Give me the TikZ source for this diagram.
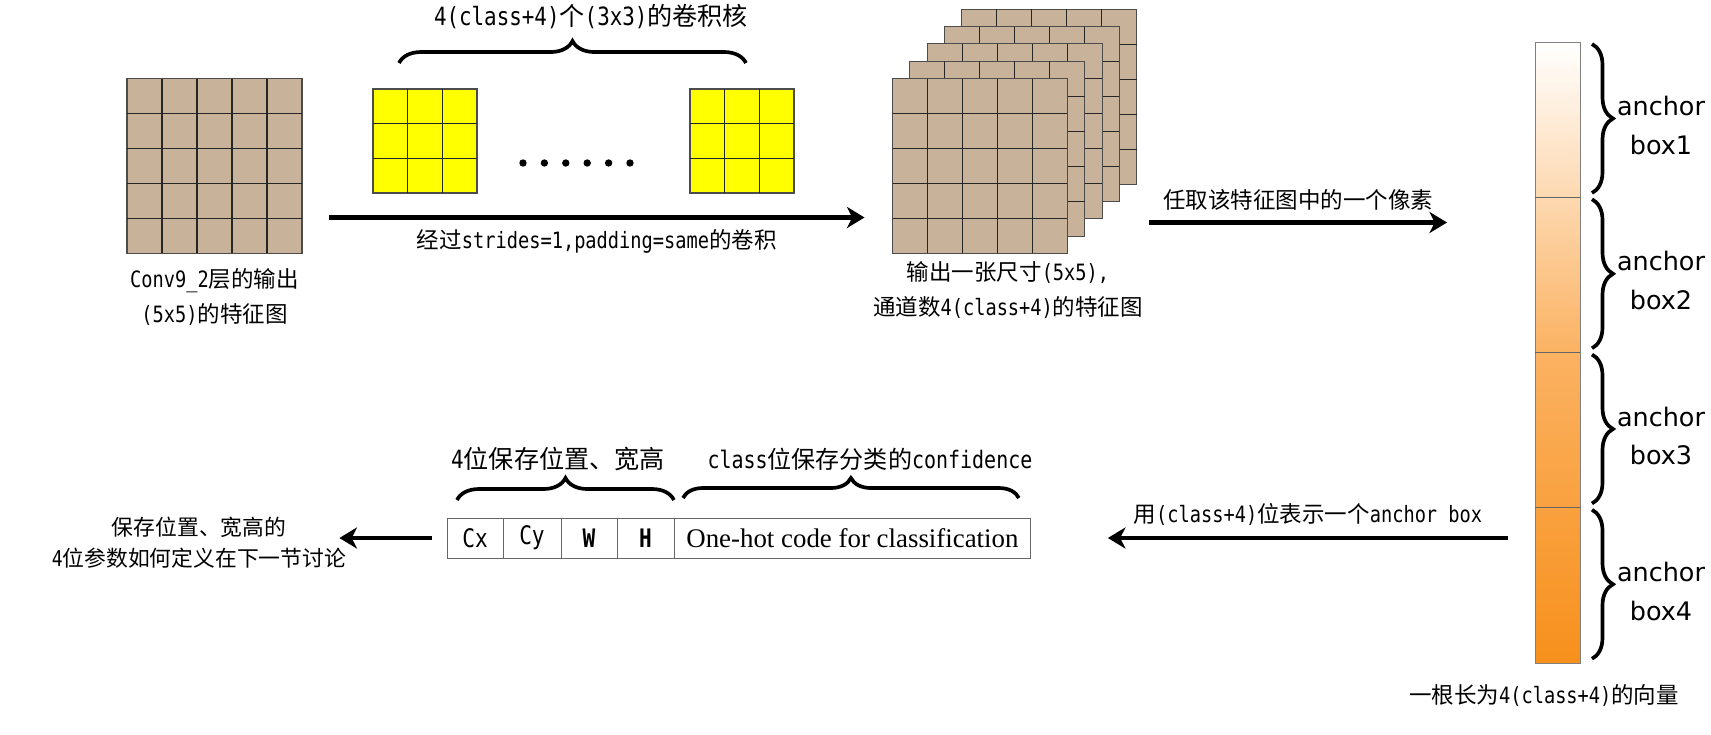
\documentclass[tikz,border=0pt]{standalone}
\usepackage{fontspec}
\setmainfont{Noto Sans CJK SC}
\newfontfamily\hmono[FakeStretch=0.83]{DejaVu Sans Mono}
\newfontfamily\boxfont{DejaVu Sans}
\newfontfamily\serifen{Liberation Serif}
\newcommand{\lat}[1]{{\hmono #1}}
\usetikzlibrary{arrows.meta,decorations.pathreplacing,positioning,calc}
\definecolor{maptan}{RGB}{200,179,154}
\definecolor{kernyellow}{RGB}{255,255,0}
\definecolor{vecmid}{RGB}{251,178,98}
\definecolor{vecorange}{RGB}{247,144,28}

% n x n cells inside a square node
\newcommand{\cellgrid}[2]{%
  \pgfmathtruncatemacro\cgn{#2-1}%
  \foreach \i in {1,...,\cgn}{%
    \draw[gridline] ($(#1.north west)!\i/#2!(#1.north east)$) -- ($(#1.south west)!\i/#2!(#1.south east)$);
    \draw[gridline] ($(#1.north west)!\i/#2!(#1.south west)$) -- ($(#1.north east)!\i/#2!(#1.south east)$);
  }}

\begin{document}
\begin{tikzpicture}[x=0.02cm,y=-0.02cm]
\tikzstyle{fmap}=[draw=black!70,fill=maptan,minimum size=3.5cm,inner sep=0,outer sep=0,line width=0.6pt]
\tikzstyle{kernel}=[fmap,fill=kernyellow,minimum size=2.08cm]
\tikzstyle{gridline}=[black!85,line width=0.6pt]
\tikzstyle{arr}=[line width=2.4pt,-{Stealth[length=10pt,width=12pt,inset=3pt]}]
\tikzstyle{curly}=[decorate,decoration={brace,amplitude=0.44cm},line width=2.1pt]
\tikzstyle{lbl}=[font=\fontsize{12.8}{20}\selectfont,align=center,inner sep=0]
\tikzstyle{biglbl}=[lbl,font=\fontsize{14.3}{20}\selectfont]
\tikzstyle{cell}=[draw=black!60,minimum height=0.8cm,inner sep=0,outer sep=0,line width=0.5pt,font=\hmono\fontsize{14.5}{16}\selectfont]
\tikzstyle{boxlbl}=[font=\boxfont\fontsize{14.5}{22}\selectfont,align=center,inner sep=0]
\useasboundingbox (0,0) rectangle (1711,734);

% input feature map
\node[fmap] (in) at (214.5,166) {};
\cellgrid{in}{5}
\node[lbl,below=0.3cm of in] (inlbl) {\lat{Conv9\_2}层的输出\\\lat{(5x5)}的特征图};

% kernels
\node[kernel] (k1) at (425,141) {};
\cellgrid{k1}{3}
\node[kernel] (k2) at (742,141) {};
\cellgrid{k2}{3}
\foreach \d in {0,...,5}
  \fill (523+21.4*\d,163) circle (2.1pt);
\draw[curly] ([xshift=0.52cm,yshift=0.52cm]k1.north west) -- ([xshift=-0.96cm,yshift=0.52cm]k2.north east);
\node[biglbl] (klbl) at (591,17) {\lat{4(class+4)}个\lat{(3x3)}的卷积核};

% output maps
\foreach \k in {4,3,2,1,0}{
  \node[fmap] (out\k) at (980+17.3*\k,166-17.3*\k) {};
  \cellgrid{out\k}{5}
}
\node[lbl,below=0.16cm of out0,xshift=0.56cm] (outlbl) {输出一张尺寸\lat{(5x5),}\\通道数\lat{4(class+4)}的特征图};

% convolution
\draw[arr] ([xshift=0.54cm,yshift=0.72cm]in.south east) -- ([xshift=-0.56cm,yshift=0.72cm]out0.south west)
  node[midway,below=0.2cm,lbl] (convlbl) {经过\lat{strides=1,padding=same}的卷积};

% vector
\node[draw=gray,line width=0.5pt,top color=white,bottom color=vecorange,middle color=vecmid,
  minimum width=0.9cm,minimum height=12.42cm,inner sep=0,outer sep=0] (vec) at (1557.5,352.5) {};
\foreach \j in {1,2,3}
  \draw[gray!80!black,line width=0.5pt] ($(vec.north west)!\j/4!(vec.south west)$) -- ($(vec.north east)!\j/4!(vec.south east)$);
\foreach \j in {1,...,4}{
  \draw[curly,decoration={brace,amplitude=0.42cm}] (1592,{44+155.25*(\j-1)}) -- (1592,{193+155.25*(\j-1)});
  \node[boxlbl] (ab\j) at (1661,{125.5+155.25*(\j-1)}) {anchor\\box\j};
}
\node[lbl] (veclbl) at (1544,695) {一根长为\lat{4(class+4)}的向量};

% pick a pixel
\coordinate (pick) at ([xshift=1.64cm,yshift=0.62cm]out0.south east);
\draw[arr] (pick) -- ([xshift=-1.76cm]vec.west |- pick)
  node[midway,above=0.2cm,lbl] (picklbl) {任取该特征图中的一个像素};

% one anchor box
\node[cell,minimum width=1.12cm] (cx) at (475,538) {Cx};
\node[cell,minimum width=1.16cm,right=0pt of cx] (cy) {Cy};
\node[cell,minimum width=1.12cm,right=0pt of cy,font=\hmono\bfseries\fontsize{14.5}{16}\selectfont] (cw) {W};
\node[cell,minimum width=1.14cm,right=0pt of cw,font=\hmono\bfseries\fontsize{14.5}{16}\selectfont] (ch) {H};
\node[cell,minimum width=7.14cm,right=0pt of ch,font=\serifen\fontsize{15.3}{18}\selectfont] (onehot) {One-hot code for classification};
\draw[curly] ([xshift=0.2cm,yshift=0.36cm]cx.north west) -- ([yshift=0.36cm]ch.north east)
  node[midway,above=0.55cm,xshift=-0.15cm,biglbl] (poslbl) {\lat{4}位保存位置、宽高};
\draw[curly,decoration={brace,amplitude=0.4cm}] ([xshift=0.18cm,yshift=0.4cm]onehot.north west) -- ([xshift=-0.24cm,yshift=0.4cm]onehot.north east)
  node[midway,above=0.52cm,xshift=0.38cm,lbl,font=\fontsize{13.7}{20}\selectfont] (clslbl) {\lat{class}位保存分类的\lat{confidence}};

\draw[arr] ([xshift=-0.54cm]vec.west |- onehot.east) -- ([xshift=1.54cm]onehot.east)
  node[midway,above=0.2cm,lbl] (reprlbl) {用\lat{(class+4)}位表示一个\lat{anchor box}};

\node[lbl,font=\fontsize{12.4}{17.6}\selectfont] (note) at (199,543) {保存位置、宽高的\\\lat{4}位参数如何定义在下一节讨论};
\draw[arr] ([xshift=-0.3cm]cx.west) -- ([xshift=-0.14cm]note.east |- cx.west);
\end{tikzpicture}
\end{document}
